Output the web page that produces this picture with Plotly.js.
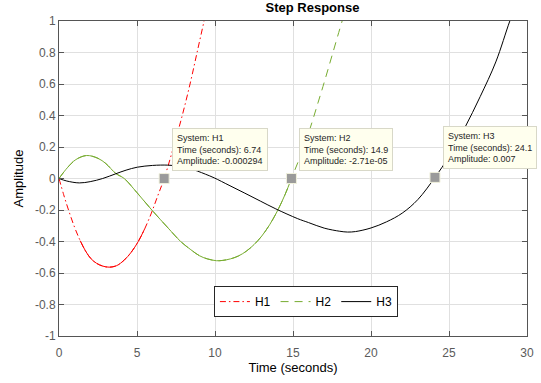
<!DOCTYPE html>
<html>
<head>
<meta charset="utf-8">
<script src="https://cdn.plot.ly/plotly-3.0.1.min.js"></script>
<style>html,body{margin:0;padding:0;background:#fff;}#chart{width:541px;height:383px;}</style>
</head>
<body>
<div id="chart"></div>
<script>
// ---- data ----
const seriesNames = ['H1', 'H2', 'H3'];

const tH1 = [0, 0.3, 0.61, 1.0, 1.36, 1.7, 2.04, 2.4, 2.8, 3.22, 3.7, 4.18, 4.6, 5.08, 5.5, 5.9, 6.3, 6.74, 7.3, 7.9, 8.4, 8.85, 9.3, 9.5];
const yH1 = [0, -0.103, -0.2, -0.31, -0.395, -0.46, -0.508, -0.538, -0.556, -0.563, -0.553, -0.518, -0.472, -0.4, -0.318, -0.225, -0.118, 0, 0.185, 0.4, 0.6, 0.8, 1.0, 1.09];

const tH2 = [0, 0.55, 1.08, 1.78, 2.5, 3.0, 3.64, 4.18, 5.0, 5.95, 7.0, 7.8, 8.45, 9.0, 9.5, 10.1, 10.5, 11.0, 11.5, 12.0, 12.5, 13.0, 13.5, 14.0, 14.5, 14.9, 15.5, 16.1, 16.6, 17.0, 17.5, 18.15, 18.4];
const yH2 = [0, 0.07, 0.12, 0.146, 0.128, 0.095, 0.032, 0, -0.09, -0.2, -0.315, -0.4, -0.452, -0.49, -0.51, -0.522, -0.52, -0.51, -0.492, -0.462, -0.42, -0.365, -0.294, -0.206, -0.1, 0, 0.15, 0.32, 0.48, 0.61, 0.78, 1.0, 1.08];

const tH3 = [0, 0.5, 1.3, 2.0, 2.8, 3.64, 4.3, 5.03, 6.0, 6.96, 7.5, 8.0, 8.5, 8.88, 9.4, 9.95, 10.9, 11.87, 12.9, 13.9, 15.3, 16, 17, 18, 18.5, 19, 20, 21, 22, 23, 24.1, 25, 26, 27, 28, 28.9, 29.3];
const yH3 = [0, -0.016, -0.028, -0.02, 0, 0.03, 0.053, 0.072, 0.083, 0.085, 0.08, 0.072, 0.06, 0.047, 0.027, 0.004, -0.043, -0.091, -0.143, -0.193, -0.255, -0.28, -0.315, -0.335, -0.34, -0.337, -0.314, -0.275, -0.22, -0.134, 0.007, 0.14, 0.32, 0.52, 0.74, 1.0, 1.1];

// data tips
const tipSystem = ['H1', 'H2', 'H3'];
const tipTime = [6.74, 14.9, 24.1];
const tipAmp = [-0.000294, -2.71e-05, 0.007];
const tipTimeLabel = ['6.74', '14.9', '24.1'];
const tipAmpLabel = ['-0.000294', '-2.71e-05', '0.007'];

const xTicks = [0, 5, 10, 15, 20, 25, 30];
const yTicks = [-1, -0.8, -0.6, -0.4, -0.2, 0, 0.2, 0.4, 0.6, 0.8, 1];
const yTickText = ['-1', '-0.8', '-0.6', '-0.4', '-0.2', '0', '0.2', '0.4', '0.6', '0.8', '1'];

// ---- helpers ----
function seg(t, y, a, b) {
  const xs = [], ys = [];
  for (let i = 0; i < t.length; i++) {
    if (t[i] >= a && t[i] <= b) { xs.push(t[i]); ys.push(y[i]); }
  }
  return {x: xs, y: ys};
}

const RED = '#ff0000', GREEN = 'rgb(119,172,48)', BLACK = '#000000';
const DASHDOT = '6px,3px,1.5px,3px';
const DASHED = '8px,6px';
const FONT = 'Liberation Sans, Arial, Helvetica, sans-serif';

function line(s, color, dash, name, show) {
  return {
    type: 'scatter', mode: 'lines', x: s.x, y: s.y, name: name,
    legendgroup: name, showlegend: show, hoverinfo: 'skip',
    line: {color: color, width: 1, dash: dash, shape: 'spline', smoothing: 1}
  };
}

// full styled curve for each series, plus a solid overlay where the
// reference rendering shows the line as continuous
const traces = [
  line(seg(tH1, yH1, 0, 100), RED, DASHDOT, seriesNames[0], true),
  line(seg(tH1, yH1, 1.36, 5.5), RED, 'solid', seriesNames[0], false),
  line(seg(tH2, yH2, 0, 100), GREEN, DASHED, seriesNames[1], true),
  line(seg(tH2, yH2, 0, 14.9), GREEN, 'solid', seriesNames[1], false),
  line(seg(tH3, yH3, 0, 100), BLACK, 'solid', seriesNames[2], true),
  {
    type: 'scatter', mode: 'markers', x: tipTime, y: tipAmp, showlegend: false, hoverinfo: 'skip',
    marker: {symbol: 'square', size: 10, color: '#9a9a9a', line: {color: '#f0f0dc', width: 1}}
  }
];

const annotations = tipSystem.map((s, i) => ({
  xref: 'x', yref: 'y', x: tipTime[i], y: tipAmp[i],
  xanchor: 'left', yanchor: 'bottom', xshift: 8, yshift: 8,
  showarrow: false, align: 'left',
  text: 'System: ' + s + '<br>Time (seconds): ' + tipTimeLabel[i] + '<br>Amplitude: ' + tipAmpLabel[i],
  font: {family: FONT, size: 9, color: '#262626'},
  bgcolor: 'rgb(255,255,238)', bordercolor: '#d8d8c8', borderwidth: 1, borderpad: 4
}));

const axisCommon = {
  showline: true, linecolor: '#555555', linewidth: 1, mirror: 'ticks',
  ticks: 'inside', ticklen: 5, tickcolor: '#555555', tickwidth: 1,
  showgrid: true, gridcolor: '#e0e0e0', gridwidth: 1, zeroline: false,
  tickfont: {family: FONT, size: 12, color: '#5a5a5a'}
};

const layout = {
  width: 541, height: 383,
  margin: {l: 59, r: 14, t: 21, b: 47},
  paper_bgcolor: '#ffffff', plot_bgcolor: '#ffffff',
  font: {family: FONT},
  title: {text: '<b>Step Response</b>', font: {family: FONT, size: 13, color: '#000'},
          x: 0.5417, xref: 'paper', xanchor: 'center', y: 1 - 7/383, yref: 'container', yanchor: 'middle'},
  xaxis: Object.assign({}, axisCommon, {
    range: [0, 30], tickvals: xTicks, ticklabelstandoff: 6,
    title: {text: 'Time (seconds)', font: {family: FONT, size: 13, color: '#000'}, standoff: 3}
  }),
  yaxis: Object.assign({}, axisCommon, {
    range: [-1, 1], tickvals: yTicks, ticktext: yTickText,
    title: {text: 'Amplitude', font: {family: FONT, size: 13, color: '#000'}}
  }),
  legend: {
    orientation: 'h', x: 0.331, xanchor: 'left', y: 0.06, yanchor: 'bottom',
    bgcolor: '#ffffff', bordercolor: '#262626', borderwidth: 1,
    font: {family: FONT, size: 12, color: '#000'}, traceorder: 'normal'
  },
  annotations: annotations,
  showlegend: true
};

Plotly.newPlot('chart', traces, layout, {staticPlot: true, displayModeBar: false});
</script>
</body>
</html>
